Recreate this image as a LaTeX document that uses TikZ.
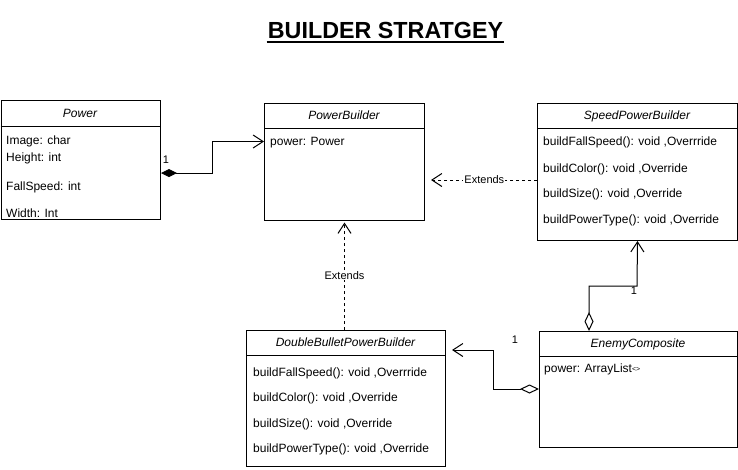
\documentclass[tikz,border=0pt]{standalone}
\usepackage{fontspec}
\setmainfont{Liberation Sans}
\usetikzlibrary{arrows.meta}
\begin{document}
\begin{tikzpicture}[x=1pt,y=-1pt,
  box/.style={draw, line width=1pt, inner sep=0pt, anchor=north west},
  hdr/.style={font=\fontsize{12}{14}\selectfont\itshape, inner sep=0pt, text height=8.6pt, text depth=0pt},
  row/.style={font=\fontsize{12}{14}\selectfont, inner sep=0pt, anchor=west, text height=8.6pt, text depth=0pt},
  lbl/.style={font=\fontsize{11}{13}\selectfont, inner sep=1pt, fill=white, text height=7.9pt, text depth=0pt},
  mult/.style={font=\fontsize{11}{13}\selectfont, inner sep=0pt, text height=7.9pt, text depth=0pt},
  conn/.style={line width=1pt},
  obarb/.tip={Straight Barb[length=10pt,width=13pt,line width=1pt]},
  fdia/.tip={Diamond[length=16pt,width=8pt,fill=black,line width=1pt]},
  odia/.tip={Diamond[open,length=19pt,width=9pt,line width=1pt]}]
\useasboundingbox[fill=white] (0,0) rectangle (738,469);

% title
\node[font=\fontsize{23.3}{27}\selectfont\bfseries, inner sep=0pt, text height=16.4pt, text depth=0pt] (title) at (385.5,30.5) {BUILDER STRATGEY};
\draw[line width=2pt] ([xshift=-1pt]title.west |- 0,42) -- ([xshift=1pt]title.east |- 0,42);

% Power
\node[box, minimum width=159.5pt, minimum height=119pt] (power) at (0.5,100) {};
\draw[line width=1pt] (power.west |- 0,126) -- (power.east |- 0,126);
\node[hdr] (powerh) at (80,113) {Power};
\node[row] (pw1) at (6,140) {Image: char};
\node[row] (pw2) at (6,157) {Height: int};
\node[row] (pw3) at (6,186) {FallSpeed: int};
\node[row] (pw4) at (6,213) {Width: Int};

% PowerBuilder
\node[box, minimum width=160pt, minimum height=117pt] (pb) at (264,103) {};
\draw[line width=1pt] (pb.west |- 0,128) -- (pb.east |- 0,128);
\node[hdr] (pbh) at (344,115.5) {PowerBuilder};
\node[row] (pb1) at (270,141) {power: Power};

% SpeedPowerBuilder
\node[box, minimum width=200pt, minimum height=137pt] (speed) at (537,103) {};
\draw[line width=1pt] (speed.west |- 0,128) -- (speed.east |- 0,128);
\node[hdr] (speedh) at (637,115.5) {SpeedPowerBuilder};
\node[row] (sp1) at (543,141.5) {buildFallSpeed(): void ,Overrride};
\node[row] (sp2) at (543,168) {buildColor(): void ,Override};
\node[row] (sp3) at (543,193.5) {buildSize(): void ,Override};
\node[row] (sp4) at (543,219) {buildPowerType(): void ,Override};

% DoubleBulletPowerBuilder
\node[box, minimum width=199pt, minimum height=136pt] (dbl) at (246,330) {};
\draw[line width=1pt] (dbl.west |- 0,355) -- (dbl.east |- 0,355);
\node[hdr] (dblh) at (345.5,342.5) {DoubleBulletPowerBuilder};
\node[row] (db1) at (253,372) {buildFallSpeed(): void ,Overrride};
\node[row] (db2) at (253,397) {buildColor(): void ,Override};
\node[row] (db3) at (253,423) {buildSize(): void ,Override};
\node[row] (db4) at (253,448) {buildPowerType(): void ,Override};

% EnemyComposite
\node[box, minimum width=198pt, minimum height=116pt] (enemy) at (539,331) {};
\draw[line width=1pt] (enemy.west |- 0,356) -- (enemy.east |- 0,356);
\node[hdr] (enemyh) at (638,343.5) {EnemyComposite};
\node[row] (en1) at (544,368) {power: ArrayList{\fontsize{7}{8}\selectfont\raisebox{0.8pt}{<>}}};

% composition Power -> PowerBuilder
\draw[conn, {fdia}-{obarb}] (power.east |- 0,173) -- (212,173) -- (212,141.5) -- (pb.west |- 0,141.5);
\node[mult] (m1) at (166,160) {1};

% Extends Speed -> PowerBuilder
\draw[conn, dashed, dash pattern=on 3pt off 3pt, -{obarb}, shorten >=6pt] (speed.west |- 0,180) -- node[lbl, pos=0.47] (ext1) {Extends} (pb.east |- 0,180);

% Extends DoubleBullet -> PowerBuilder
\draw[conn, dashed, dash pattern=on 3pt off 3pt, -{obarb}, shorten >=1.5pt] (dbl.north -| 344.5,0) -- node[lbl] (ext2) {Extends} (pb.south -| 344.5,0);

% aggregation Enemy -> Speed
\draw[conn, {odia}-{obarb}] (enemy.north -| 589,0) -- (589,286) -- (637,286) -- (speed.south);
\node[mult] (m2) at (634,291) {1};

% aggregation Enemy -> DoubleBullet
\draw[conn, {odia}-{obarb}, shorten >=6pt] (enemy.west |- 0,389) -- (493,389) -- (493,350) -- (dbl.east |- 0,350);
\node[mult] (m3) at (515,340) {1};
\end{tikzpicture}
\end{document}
